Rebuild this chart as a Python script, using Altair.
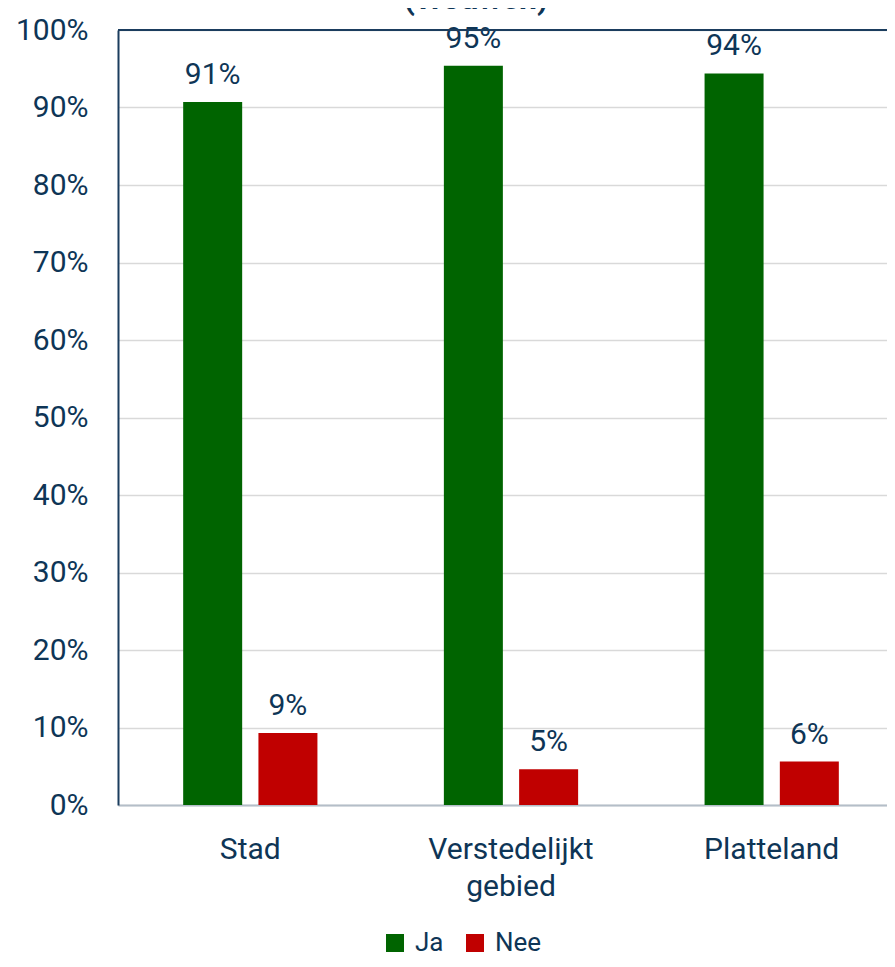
import altair as alt
import pandas as pd

# ---- data ----
categories = ["Stad", "Verstedelijkt gebied", "Platteland"]
series = ["Ja", "Nee"]
ja = [0.907, 0.954, 0.944]
nee = [0.093, 0.046, 0.056]
colors = ["#006400", "#C00000"]
title_text = "(vrouwen)"

rows = []
for c, j, n in zip(categories, ja, nee):
    rows.append({"cat": c, "serie": "Ja", "val": j})
    rows.append({"cat": c, "serie": "Nee", "val": n})
df = pd.DataFrame(rows)

W, H = 786, 775
FONT = "Roboto"
TXT = "#0E3556"
NAVY = "#1B3D5E"

x = alt.X(
    "cat:N", sort=categories, title=None,
    scale=alt.Scale(paddingInner=0.485, paddingOuter=0.25),
    axis=alt.Axis(labelAngle=0, labelExpr="split(datum.label, ' ')", ticks=False,
                  labelPadding=29, labelFontSize=30, labelLineHeight=37,
                  labelColor=TXT, labelFont=FONT, domainColor="#B4BEC8",
                  domainWidth=2, grid=False),
)
xo = alt.XOffset("serie:N", sort=series,
                 scale=alt.Scale(paddingInner=0.216, paddingOuter=0))
y = alt.Y(
    "val:Q", title=None, scale=alt.Scale(domain=[0, 1]),
    axis=alt.Axis(values=[i / 10 for i in range(11)], format=".0%", ticks=False,
                  labelPadding=30, labelFontSize=30, labelColor=TXT, labelFont=FONT,
                  domainColor=NAVY, domainWidth=2, gridColor="#D9D9D9", gridWidth=1.5),
)
color = alt.Color(
    "serie:N", sort=series, scale=alt.Scale(domain=series, range=colors),
    legend=alt.Legend(title=None, orient="none", legendX=264, legendY=900,
                      direction="horizontal", symbolType="square", symbolSize=324,
                      symbolStrokeWidth=0, labelFontSize=26, labelFont=FONT,
                      labelColor=TXT, labelOffset=7, columnPadding=18),
)

bars = alt.Chart(df).mark_bar().encode(x=x, xOffset=xo, y=y, color=color)
labels = alt.Chart(df).mark_text(
    baseline="alphabetic", dy=-18, fontSize=30, font=FONT, color=TXT
).encode(x=x, xOffset=xo, y=y, text=alt.Text("val:Q", format=".0%"))

top_border = alt.Chart(pd.DataFrame({"a": [0]})).mark_rule(
    color=NAVY, strokeWidth=2
).encode(x=alt.value(0), x2=alt.value(W), y=alt.value(0))

title = alt.Chart(pd.DataFrame({"t": [title_text]})).mark_text(
    fontSize=32, fontWeight="bold", font=FONT, color=TXT,
    baseline="alphabetic", align="center"
).encode(x=alt.value(358), y=alt.value(-21), text="t:N")

chart = alt.layer(bars, labels, top_border, title).properties(
    width=W, height=H,
    padding={"left": 110, "top": 22, "right": -17, "bottom": 153},
    autosize=alt.AutoSizeParams(type="none"),
).configure_view(strokeWidth=0)

chart.save("out.html", embed_options={"renderer": "svg", "actions": False})
